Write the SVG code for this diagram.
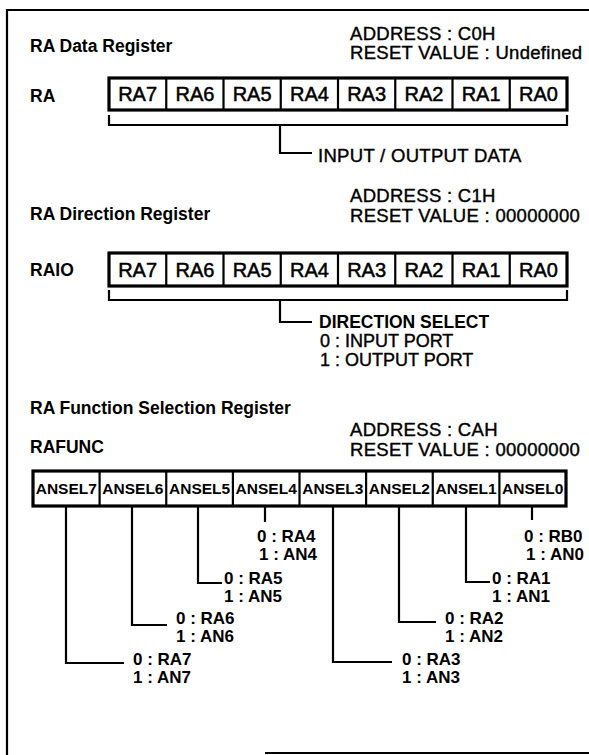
<svg xmlns="http://www.w3.org/2000/svg" width="589" height="755" viewBox="0 0 589 755">
<style>
text{font-family:"Liberation Sans",Arial,sans-serif;fill:#000}
.h{font-weight:bold;font-size:17.5px}
.a{font-size:18.5px;stroke:#000;stroke-width:0.4;letter-spacing:0.3px}
.p{font-size:18px;stroke:#000;stroke-width:0.4}
.c{font-size:20px;stroke:#000;stroke-width:0.5}
.s{font-weight:bold;font-size:15.5px}
.t{font-weight:bold;font-size:17px}
.box{fill:#fff;stroke:#000;stroke-width:3.2}
.div{stroke:#000;stroke-width:2.2}
.ln{fill:none;stroke:#000;stroke-width:2.2}
</style>
<rect width="589" height="755" fill="#fff"/>
<g id="frame">
<path class="ln" d="M7 755 V10 H589" stroke-width="2.8"/>
<path class="ln" d="M265 753 H589"/>
</g>

<g id="reg-ra">
<text class="h" x="30" y="52">RA Data Register</text>
<text class="a" x="350" y="40">ADDRESS : C0H</text>
<text class="a" x="350" y="59">RESET VALUE : Undefined</text>
<text class="h" x="30" y="102">RA</text>
<rect class="box" x="109" y="78" width="458" height="32"/>
<g class="div">
<line x1="166.25" y1="78" x2="166.25" y2="110"/><line x1="223.5" y1="78" x2="223.5" y2="110"/>
<line x1="280.75" y1="78" x2="280.75" y2="110"/><line x1="338" y1="78" x2="338" y2="110"/>
<line x1="395.25" y1="78" x2="395.25" y2="110"/><line x1="452.5" y1="78" x2="452.5" y2="110"/>
<line x1="509.75" y1="78" x2="509.75" y2="110"/>
</g>
<g class="c" text-anchor="middle">
<text x="137.6" y="101">RA7</text><text x="194.9" y="101">RA6</text><text x="252.1" y="101">RA5</text><text x="309.4" y="101">RA4</text>
<text x="366.6" y="101">RA3</text><text x="423.9" y="101">RA2</text><text x="481.1" y="101">RA1</text><text x="538.4" y="101">RA0</text>
</g>
<text class="a" x="318" y="162" font-size="20.5">INPUT / OUTPUT DATA</text>
</g>

<g id="reg-raio">
<text class="h" x="30" y="220">RA Direction Register</text>
<text class="a" x="350" y="202">ADDRESS : C1H</text>
<text class="a" x="350" y="222">RESET VALUE : 00000000</text>
<text class="h" x="30" y="276">RAIO</text>
<rect class="box" x="109" y="253" width="458" height="33"/>
<g class="div">
<line x1="166.25" y1="253" x2="166.25" y2="286"/><line x1="223.5" y1="253" x2="223.5" y2="286"/>
<line x1="280.75" y1="253" x2="280.75" y2="286"/><line x1="338" y1="253" x2="338" y2="286"/>
<line x1="395.25" y1="253" x2="395.25" y2="286"/><line x1="452.5" y1="253" x2="452.5" y2="286"/>
<line x1="509.75" y1="253" x2="509.75" y2="286"/>
</g>
<g class="c" text-anchor="middle">
<text x="137.6" y="277">RA7</text><text x="194.9" y="277">RA6</text><text x="252.1" y="277">RA5</text><text x="309.4" y="277">RA4</text>
<text x="366.6" y="277">RA3</text><text x="423.9" y="277">RA2</text><text x="481.1" y="277">RA1</text><text x="538.4" y="277">RA0</text>
</g>
<text class="h" x="319" y="328" font-size="19">DIRECTION SELECT</text>
<text class="p" x="320" y="347">0 : INPUT PORT</text>
<text class="p" x="320" y="366">1 : OUTPUT PORT</text>
</g>

<g id="reg-rafunc">
<text class="h" x="30" y="414">RA Function Selection Register</text>
<text class="a" x="350" y="436">ADDRESS : CAH</text>
<text class="a" x="350" y="456">RESET VALUE : 00000000</text>
<text class="h" x="30" y="453">RAFUNC</text>
<rect class="box" x="33" y="471" width="533" height="35"/>
<g class="div">
<line x1="99.6" y1="471" x2="99.6" y2="506"/><line x1="166.25" y1="471" x2="166.25" y2="506"/>
<line x1="232.9" y1="471" x2="232.9" y2="506"/><line x1="299.5" y1="471" x2="299.5" y2="506"/>
<line x1="366.1" y1="471" x2="366.1" y2="506"/><line x1="432.75" y1="471" x2="432.75" y2="506"/>
<line x1="499.4" y1="471" x2="499.4" y2="506"/>
</g>
<g class="s" text-anchor="middle">
<text x="66.3" y="494">ANSEL7</text><text x="132.9" y="494">ANSEL6</text><text x="199.6" y="494">ANSEL5</text><text x="266.2" y="494">ANSEL4</text>
<text x="332.8" y="494">ANSEL3</text><text x="399.4" y="494">ANSEL2</text><text x="466.1" y="494">ANSEL1</text><text x="532.7" y="494">ANSEL0</text>
</g>
<g class="t">
<text x="133" y="665">0 : RA7</text><text x="133" y="683">1 : AN7</text>
<text x="176" y="624">0 : RA6</text><text x="176" y="642">1 : AN6</text>
<text x="224" y="584">0 : RA5</text><text x="224" y="602">1 : AN5</text>
<text x="257" y="542">0 : RA4</text><text x="259" y="560">1 : AN4</text>
<text x="402" y="665">0 : RA3</text><text x="402" y="683">1 : AN3</text>
<text x="445" y="624">0 : RA2</text><text x="445" y="642">1 : AN2</text>
<text x="492" y="584">0 : RA1</text><text x="492" y="602">1 : AN1</text>
<text x="524" y="542">0 : RB0</text><text x="526" y="560">1 : AN0</text>
</g>
</g>

<g id="connectors" class="ln">
<path d="M109 115 V125 H567 V115"/>
<path d="M280 125 V153 H312"/>
<path d="M109 290 V300 H567 V290"/>
<path d="M280 300 V322 H312"/>
<path d="M66 506 V663 H124"/>
<path d="M132 506 V625 H167"/>
<path d="M198 506 V583 H222"/>
<path d="M265 506 V522"/>
<path d="M333 506 V662 H392"/>
<path d="M399 506 V622 H436"/>
<path d="M466 506 V582 H490"/>
<path d="M532 506 V520"/>
</g>
</svg>
